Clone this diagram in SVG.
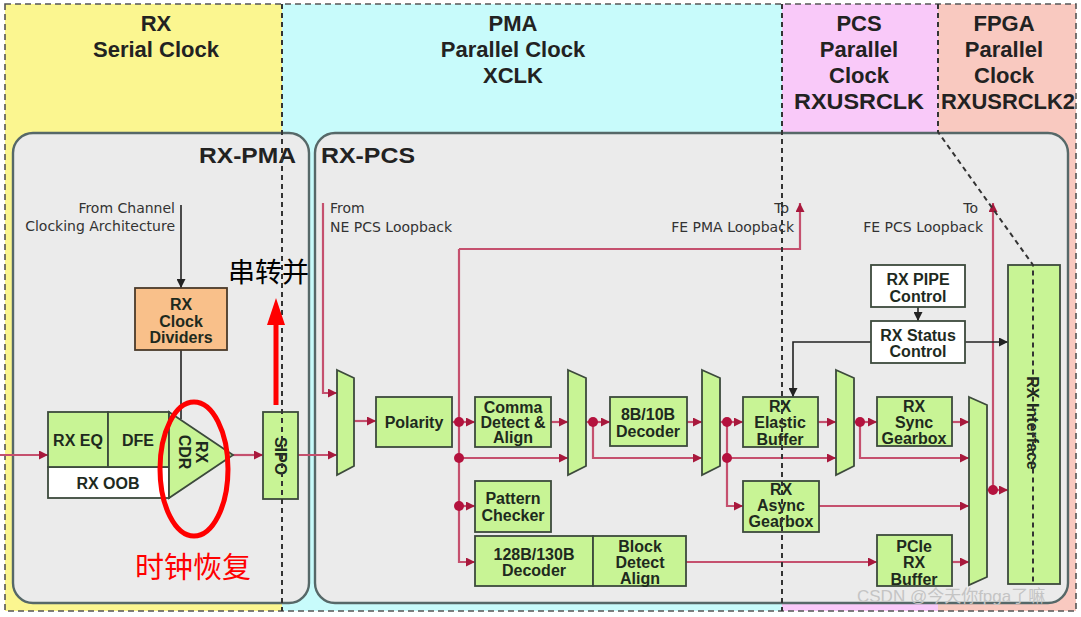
<svg xmlns="http://www.w3.org/2000/svg" width="1081" height="617" viewBox="0 0 1081 617">
<style>
.hd{font-family:'Liberation Sans',Arial,sans-serif;font-weight:bold;font-size:22px;fill:#222;text-anchor:middle}
.lb{font-family:'Liberation Sans',Arial,sans-serif;font-weight:bold;font-size:22px;fill:#222}
.bt{font-family:'Liberation Sans',Arial,sans-serif;font-weight:bold;font-size:16px;fill:#1e2a1e;text-anchor:middle}
.sm{font-family:'DejaVu Sans',sans-serif;font-size:14px;fill:#333}
.g{fill:#c8f495;stroke:#3c4a3c;stroke-width:1.8}
.w{fill:#fff;stroke:#3c4a3c;stroke-width:1.8}
.o{fill:#f9c08a;stroke:#4a3a2a;stroke-width:1.8}
.p{fill:none;stroke:#c5506e;stroke-width:2.2}
.k{fill:none;stroke:#222;stroke-width:1.6}
.dot{fill:#b4123e}
.dash{fill:none;stroke:#333;stroke-width:2;stroke-dasharray:5 4}
.zone{fill:none;stroke:#555;stroke-width:1.6;stroke-dasharray:6 4}
.rr{fill:#ebebeb;stroke:#566868;stroke-width:2.4}
.red{font-family:'Noto Sans CJK SC',sans-serif;fill:#ff0000}
</style>
<defs>
<marker id="ap" markerUnits="userSpaceOnUse" markerWidth="9" markerHeight="9" refX="9" refY="4.5" orient="auto"><path d="M0,0 L9,4.5 L0,9 z" fill="#a8183c"/></marker>
<marker id="ak" markerUnits="userSpaceOnUse" markerWidth="9" markerHeight="9" refX="9" refY="4.5" orient="auto"><path d="M0,0 L9,4.5 L0,9 z" fill="#222"/></marker>
</defs>
<rect width="1081" height="617" fill="#fff"/>
<g id="zones">
<rect x="5" y="4" width="277" height="607" fill="#fbf690"/>
<rect x="282" y="4" width="500" height="607" fill="#c8fbfb"/>
<rect x="782" y="4" width="156" height="607" fill="#f9c9f9"/>
<rect x="938" y="4" width="138" height="607" fill="#f9c9c0"/>
<rect x="5" y="4" width="1071" height="607" class="zone"/>
<text class="hd" x="156" y="31">RX</text>
<text class="hd" x="156" y="57">Serial Clock</text>
<text class="hd" x="513" y="31">PMA</text>
<text class="hd" x="513" y="57">Parallel Clock</text>
<text class="hd" x="513" y="83">XCLK</text>
<text class="hd" x="859" y="31">PCS</text>
<text class="hd" x="859" y="57">Parallel</text>
<text class="hd" x="859" y="83">Clock</text>
<text class="hd" x="859" y="109" textLength="130" lengthAdjust="spacingAndGlyphs">RXUSRCLK</text>
<text class="hd" x="1004" y="31">FPGA</text>
<text class="hd" x="1004" y="57">Parallel</text>
<text class="hd" x="1004" y="83">Clock</text>
<text class="hd" x="1008" y="109" textLength="134" lengthAdjust="spacingAndGlyphs">RXUSRCLK2</text>
</g>
<g id="rx-pma">
<rect x="13" y="133" width="296" height="470" rx="20" class="rr"/>
<text class="lb" x="296" y="163" text-anchor="end" textLength="97" lengthAdjust="spacingAndGlyphs">RX-PMA</text>
</g>
<g id="rx-pcs">
<rect x="315" y="133" width="753" height="470" rx="20" class="rr"/>
<text class="lb" x="321" y="163" textLength="94" lengthAdjust="spacingAndGlyphs">RX-PCS</text>
</g>
<g id="labels">
<text class="sm" x="175" y="213" text-anchor="end">From Channel</text>
<text class="sm" x="175" y="231" text-anchor="end">Clocking Architecture</text>
<text class="sm" x="330" y="213">From</text>
<text class="sm" x="330" y="232">NE PCS Loopback</text>
<text class="sm" x="789" y="213" text-anchor="end">To</text>
<text class="sm" x="794" y="232" text-anchor="end">FE PMA Loopback</text>
<text class="sm" x="978" y="213" text-anchor="end">To</text>
<text class="sm" x="983" y="232" text-anchor="end">FE PCS Loopback</text>
</g>
<g id="connectors">
<path class="p" d="M0,455 H48" marker-end="url(#ap)"/>
<path class="p" d="M233,455 H263" marker-end="url(#ap)"/>
<path class="p" d="M298,455 H337" marker-end="url(#ap)"/>
<path class="p" d="M323,203 V393 H337" marker-end="url(#ap)"/>
<path class="p" d="M354,421 H376" marker-end="url(#ap)"/>
<path class="p" d="M452,422 H475" marker-end="url(#ap)"/>
<path class="p" d="M459,249 V562 H475" marker-end="url(#ap)"/>
<path class="p" d="M459,249 H800 V203" marker-end="url(#ap)"/>
<path class="p" d="M551,422 H568" marker-end="url(#ap)"/>
<path class="p" d="M459,458 H568" marker-end="url(#ap)"/>
<path class="p" d="M459,506 H475" marker-end="url(#ap)"/>
<path class="p" d="M586,422 H610" marker-end="url(#ap)"/>
<path class="p" d="M593,422 V458 H702" marker-end="url(#ap)"/>
<path class="p" d="M687,422 H702" marker-end="url(#ap)"/>
<path class="p" d="M720,422 H743" marker-end="url(#ap)"/>
<path class="p" d="M727,422 V506 H743" marker-end="url(#ap)"/>
<path class="p" d="M727,458 H836" marker-end="url(#ap)"/>
<path class="p" d="M818,422 H836" marker-end="url(#ap)"/>
<path class="p" d="M854,422 H877" marker-end="url(#ap)"/>
<path class="p" d="M860,422 V458 H969" marker-end="url(#ap)"/>
<path class="p" d="M952,422 H969" marker-end="url(#ap)"/>
<path class="p" d="M819,506 H969" marker-end="url(#ap)"/>
<path class="p" d="M686,562 H877" marker-end="url(#ap)"/>
<path class="p" d="M952,562 H969" marker-end="url(#ap)"/>
<path class="p" d="M987,490 H1008" marker-end="url(#ap)"/>
<path class="p" d="M993,490 V203" marker-end="url(#ap)"/>
<circle class="dot" cx="459" cy="422" r="5"/>
<circle class="dot" cx="459" cy="458" r="5"/>
<circle class="dot" cx="459" cy="506" r="5"/>
<circle class="dot" cx="593" cy="422" r="5"/>
<circle class="dot" cx="727" cy="422" r="5"/>
<circle class="dot" cx="727" cy="458" r="5"/>
<circle class="dot" cx="860" cy="422" r="5"/>
<circle class="dot" cx="993" cy="490" r="5"/>
<path class="k" d="M181,205 V288" marker-end="url(#ak)"/>
<path class="k" d="M181,350 V419"/>
<path class="k" d="M918,307 V321" marker-end="url(#ak)"/>
<path class="k" d="M871,342 H793 V397" marker-end="url(#ak)"/>
<path class="k" d="M965,342 H1008" marker-end="url(#ak)"/>
</g>
<g id="rx-clock-dividers">
<rect x="135" y="288" width="92" height="62" class="o"/>
<text class="bt" x="181" y="310">RX</text>
<text class="bt" x="181" y="327">Clock</text>
<text class="bt" x="181" y="343">Dividers</text>
</g>
<g id="rx-eq-dfe-oob">
<rect x="48" y="467" width="121" height="31" class="w"/>
<rect x="48" y="412" width="60" height="55" class="g"/>
<rect x="108" y="412" width="61" height="55" class="g"/>
<text class="bt" x="78" y="446" font-size="17">RX EQ</text>
<text class="bt" x="138" y="446" font-size="17">DFE</text>
<text class="bt" x="108" y="489" font-size="17">RX OOB</text>
</g>
<g id="rx-cdr">
<polygon points="169,412 233,455 169,498" class="g"/>
<text class="bt" font-size="15" transform="translate(191,452) rotate(90)"><tspan x="0" y="-5">RX</tspan><tspan x="0" y="12">CDR</tspan></text>
</g>
<g id="sipo">
<rect x="263" y="412" width="35" height="87" class="g"/>
<text class="bt" font-size="16" transform="translate(281,456) rotate(90)" y="6">SIPO</text>
</g>
<g id="mux1"><polygon points="337,370 354,378 354,466 337,475" class="g"/></g>
<g id="polarity">
<rect x="376" y="397" width="76" height="50" class="g"/>
<text class="bt" x="414" y="428" font-size="17">Polarity</text>
</g>
<g id="comma-detect-align">
<rect x="475" y="397" width="76" height="50" class="g"/>
<text class="bt" x="513" y="413">Comma</text>
<text class="bt" x="513" y="428">Detect &amp;</text>
<text class="bt" x="513" y="443">Align</text>
</g>
<g id="pattern-checker">
<rect x="475" y="481" width="76" height="51" class="g"/>
<text class="bt" x="513" y="504">Pattern</text>
<text class="bt" x="513" y="521">Checker</text>
</g>
<g id="decoder-128b130b">
<rect x="475" y="536" width="118" height="50" class="g"/>
<text class="bt" x="534" y="560">128B/130B</text>
<text class="bt" x="534" y="576">Decoder</text>
</g>
<g id="block-detect-align">
<rect x="593" y="536" width="93" height="50" class="g"/>
<text class="bt" x="640" y="552">Block</text>
<text class="bt" x="640" y="568">Detect</text>
<text class="bt" x="640" y="584">Align</text>
</g>
<g id="mux2"><polygon points="568,370 586,378 586,466 568,475" class="g"/></g>
<g id="decoder-8b10b">
<rect x="610" y="397" width="77" height="49" class="g"/>
<text class="bt" x="648" y="420">8B/10B</text>
<text class="bt" x="648" y="437">Decoder</text>
</g>
<g id="mux3"><polygon points="702,370 720,378 720,466 702,475" class="g"/></g>
<g id="rx-elastic-buffer">
<rect x="743" y="397" width="75" height="50" class="g"/>
<text class="bt" x="780" y="412">RX</text>
<text class="bt" x="780" y="428">Elastic</text>
<text class="bt" x="780" y="445">Buffer</text>
</g>
<g id="rx-async-gearbox">
<rect x="743" y="481" width="76" height="51" class="g"/>
<text class="bt" x="781" y="495">RX</text>
<text class="bt" x="781" y="511">Async</text>
<text class="bt" x="781" y="527">Gearbox</text>
</g>
<g id="mux4"><polygon points="836,370 854,378 854,466 836,475" class="g"/></g>
<g id="rx-sync-gearbox">
<rect x="877" y="397" width="75" height="49" class="g"/>
<text class="bt" x="914" y="412">RX</text>
<text class="bt" x="914" y="428">Sync</text>
<text class="bt" x="914" y="444">Gearbox</text>
</g>
<g id="pcie-rx-buffer">
<rect x="877" y="535" width="75" height="51" class="g"/>
<text class="bt" x="914" y="552">PCIe</text>
<text class="bt" x="914" y="568">RX</text>
<text class="bt" x="914" y="585">Buffer</text>
</g>
<g id="mux5"><polygon points="969,397 987,405 987,577 969,585" class="g"/></g>
<g id="rx-pipe-control">
<rect x="871" y="265" width="94" height="42" class="w"/>
<text class="bt" x="918" y="285">RX PIPE</text>
<text class="bt" x="918" y="302">Control</text>
</g>
<g id="rx-status-control">
<rect x="871" y="321" width="94" height="42" class="w"/>
<text class="bt" x="918" y="341">RX Status</text>
<text class="bt" x="918" y="357">Control</text>
</g>
<g id="rx-interface">
<rect x="1008" y="265" width="52" height="319" class="g"/>
<text class="bt" font-size="18" transform="translate(1033,423) rotate(90)" y="6">RX Interface</text>
</g>
<g id="clock-boundaries">
<path class="dash" d="M282,4 V611"/>
<path class="dash" d="M782,4 V611"/>
<path class="dash" d="M938,4 V132 L1033,265 V584"/>
</g>
<g id="annotations">
<path d="M276,405 V322" stroke="#ff0000" stroke-width="5" fill="none"/>
<polygon points="267,325 285,325 276,298" fill="#ff0000"/>
<ellipse cx="194" cy="469" rx="34" ry="67" fill="none" stroke="#ff0000" stroke-width="5"/>
<text x="228" y="282" font-family="'Noto Sans CJK SC',sans-serif" font-size="27" fill="#000">串转并</text>
<text class="red" x="135" y="578" font-size="29">时钟恢复</text>
<text x="857" y="602" font-family="'Liberation Sans','Noto Sans CJK SC',sans-serif" font-size="17" fill="#c4c4c4">CSDN @今天你fpga了嘛</text>
</g>
</svg>
